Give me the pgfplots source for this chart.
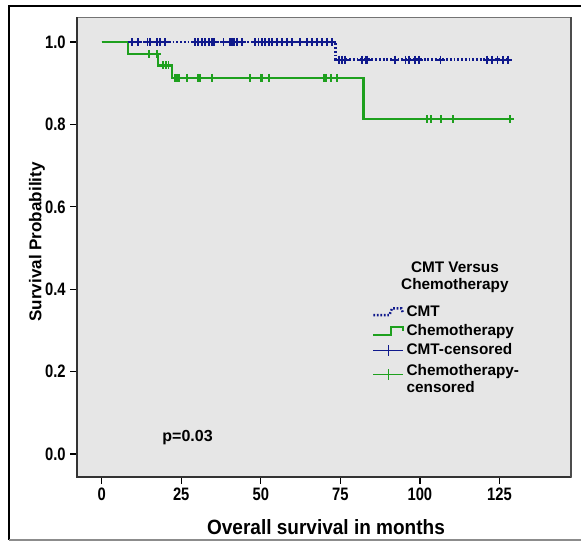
\documentclass[border=0pt]{standalone}
\usepackage{fontspec}
\setmainfont{Liberation Sans}
\newfontfamily\tickfont{Liberation Sans}[FakeStretch=0.82]
\newfontfamily\labelfont{Liberation Sans}[FakeStretch=0.92]
\usepackage{pgfplots}
\pgfplotsset{compat=1.18}
\definecolor{cmtblue}{RGB}{15,25,140}
\definecolor{chemogreen}{RGB}{30,160,30}
\definecolor{bggray}{RGB}{230,230,230}
\begin{document}
\begin{tikzpicture}
\useasboundingbox (0,0) rectangle (435.75pt,-406.5pt);
\draw[line width=1.5pt] (6.75pt,-405pt) -- (6.75pt,-4.5pt) -- (440pt,-4.5pt);
\draw[black!45, line width=1pt] (6.75pt,-405pt) -- (440pt,-405pt);
\begin{axis}[
 at={(57.75pt,-357.75pt)}, anchor=south west,
 scale only axis, width=370.5pt, height=345pt,
 xmin=-7.76, xmax=147.5, ymin=-0.0558, ymax=1.0607,
 clip=false,
 axis background/.style={fill=bggray},
 axis line style={draw=black!55, line width=0.6pt},
 xtick={0,25,50,75,100,125}, ytick={0,0.2,0.4,0.6,0.8,1.0},
 tick pos=left, tick align=outside,
 major tick length=5pt,
 tick style={black, line width=1pt},
 ticklabel style={font=\tickfont\bfseries\fontsize{13.5}{15}\selectfont},
 /pgf/number format/assume math mode=true,
 yticklabel style={/pgf/number format/.cd, fixed, fixed zerofill, precision=1},
 xlabel={Overall survival in months}, ylabel={Survival Probability},
 xlabel style={font=\labelfont\bfseries\fontsize{15.5}{17}\selectfont, at={(axis description cs:0.504,-0.108)}, anchor=center},
 ylabel style={font=\bfseries\fontsize{12.8}{15}\selectfont, at={(axis description cs:-0.081,0.511)}, anchor=center},
 legend style={at={(axis description cs:0.597,0.378)}, anchor=north west,
   draw=none, fill=none, font=\bfseries\fontsize{11.5}{13}\selectfont,
   cells={anchor=west}, row sep=0.5pt, inner sep=0pt},
]
% CMT survival curve
\addplot[const plot, cmtblue, line width=2pt, dash pattern=on 1.4pt off 1.4pt,
  legend image code/.code={\draw[draw=cmtblue, line width=1.8pt, dash pattern=on 1.3pt off 1.3pt] (0pt,-2pt) -- (12pt,-2pt) -- (14pt,3pt) -- (21pt,3pt) -- (22pt,0pt);}]
  coordinates {(0,1) (73.5,0.957) (127.7,0.957)};
\addlegendentry{CMT}
% Chemotherapy survival curve
\addplot[const plot, chemogreen, line width=1.6pt,
  legend image code/.code={\draw[draw=chemogreen, line width=1.6pt] (0pt,-3pt) -- (13pt,-3pt) -- (13pt,3pt) -- (22pt,3pt) -- (22pt,0pt);}]
  coordinates {(0,1) (8.4,0.971) (17.6,0.943) (22.2,0.913) (82.3,0.813) (128.3,0.813)};
\addlegendentry{Chemotherapy}
% CMT censored
\addplot[only marks, mark=+, mark size=3pt, cmtblue, mark options={line width=1.4pt},
  legend image code/.code={\draw[draw=cmtblue, line width=0.6pt] (0pt,0pt) -- (22pt,0pt); \draw[draw=cmtblue, line width=0.8pt] (11pt,-4pt) -- (11pt,4pt);}]
  coordinates {
  (9.4,1) (11.5,1) (14.4,1) (15.2,1) (17.5,1) (18.4,1) (19.9,1)
  (29.4,1) (30.4,1) (31.5,1) (32.5,1) (33.6,1) (34.6,1) (35.4,1) (38.3,1)
  (40.4,1) (40.9,1) (41.5,1) (42.5,1) (44.1,1) (48.3,1) (49.3,1) (50.4,1)
  (51.4,1) (52.5,1) (53.5,1) (55.1,1) (56.7,1) (58.2,1) (59.8,1) (62.4,1)
  (64.5,1) (66.1,1) (67.7,1) (69.3,1) (70.8,1) (72.4,1)
  (74.5,0.957) (75.6,0.957) (76.6,0.957) (81.9,0.957) (82.9,0.957) (83.4,0.957)
  (92.3,0.957) (95.5,0.957) (96.6,0.957) (98.6,0.957) (99.7,0.957) (106.5,0.957)
  (121.2,0.957) (122.8,0.957) (124.4,0.957) (126.0,0.957) (127.7,0.957)};
\addlegendentry{CMT-censored}
% Chemotherapy censored
\addplot[only marks, mark=+, mark size=3pt, color=chemogreen, mark options={line width=1.4pt},
  legend image code/.code={\draw[draw=chemogreen, line width=0.6pt] (0pt,0pt) -- (22pt,0pt); \draw[draw=chemogreen, line width=0.8pt] (11pt,-4pt) -- (11pt,4pt);}]
  coordinates {
  (14.9,0.971) (17.3,0.971)
  (19.4,0.943) (20.2,0.943) (21.0,0.943)
  (23.1,0.913) (23.6,0.913) (24.2,0.913) (26.8,0.913) (30.4,0.913) (31.0,0.913)
  (34.6,0.913) (46.7,0.913) (49.9,0.913) (50.4,0.913) (52.5,0.913) (69.8,0.913)
  (70.5,0.913) (72.2,0.913) (74.0,0.913)
  (102.3,0.813) (103.4,0.813) (106.7,0.813) (110.5,0.813) (128.3,0.813)};
\addlegendentry{\begin{tabular}{@{}l@{}}Chemotherapy-\\censored\end{tabular}}
\node[font=\bfseries\fontsize{11.5}{13}\selectfont, align=center] at (axis description cs:0.765,0.435) {CMT Versus\\Chemotherapy};
\node[font=\bfseries\fontsize{12}{14}\selectfont] at (axis cs:27,0.04) {p=0.03};
\draw[black!80, line width=1.2pt] (axis description cs:0,1) -- (axis description cs:0,0) -- (axis description cs:1,0);
\draw[black!70, line width=1.5pt] (axis description cs:1,0) -- (axis description cs:1,1);
\end{axis}
\end{tikzpicture}
\end{document}
